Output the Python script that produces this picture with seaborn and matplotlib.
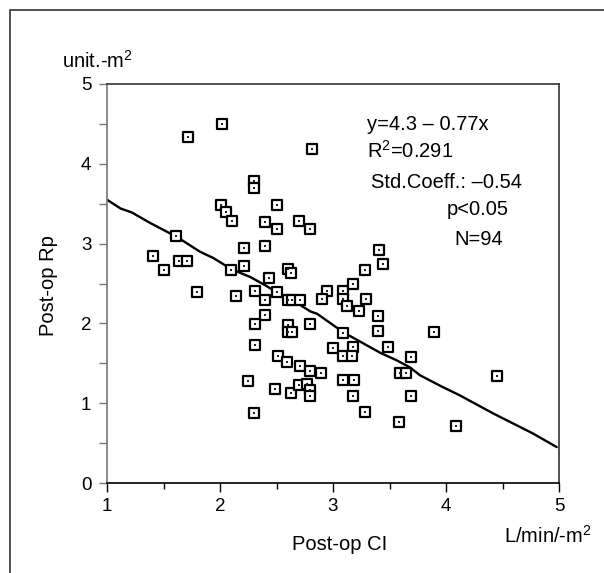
import numpy as np
import pandas as pd
import seaborn as sns
import matplotlib.pyplot as plt
from matplotlib.patches import Rectangle
from matplotlib.ticker import MultipleLocator

# post-op CI vs post-op Rp
ci = [2.02, 1.72, 2.81, 2.30, 2.30, 2.01, 2.05, 2.11, 2.50, 2.40,
      2.50, 2.70, 2.80, 1.61, 2.21, 2.40, 1.41, 1.50, 1.64, 1.71,
      2.10, 2.21, 2.60, 2.63, 2.43, 1.80, 2.14, 2.31, 2.50, 2.95,
      3.09, 3.41, 3.44, 3.28, 3.18, 2.90, 3.09, 3.29, 2.40, 2.60,
      2.64, 2.71, 3.12, 2.40, 2.31, 2.60, 2.60, 2.64, 2.80, 3.09,
      2.31, 3.00, 3.09, 2.51, 2.59, 2.71, 2.80, 2.89, 2.25, 2.49,
      2.63, 2.70, 2.77, 2.80, 2.80, 3.09, 2.30, 3.23, 3.40, 3.40,
      3.89, 3.18, 3.49, 3.17, 3.69, 3.59, 3.65, 4.45, 3.19, 3.18,
      3.69, 3.28, 3.58, 4.09]
rp = [4.50, 4.33, 4.18, 3.79, 3.70, 3.48, 3.39, 3.28, 3.48, 3.27,
      3.18, 3.28, 3.18, 3.09, 2.94, 2.97, 2.84, 2.67, 2.78, 2.78,
      2.67, 2.72, 2.68, 2.63, 2.57, 2.39, 2.34, 2.40, 2.39, 2.41,
      2.41, 2.92, 2.75, 2.67, 2.49, 2.31, 2.31, 2.30, 2.29, 2.29,
      2.29, 2.29, 2.22, 2.10, 1.99, 1.98, 1.89, 1.89, 1.99, 1.88,
      1.73, 1.69, 1.59, 1.59, 1.52, 1.47, 1.40, 1.38, 1.28, 1.18,
      1.13, 1.23, 1.24, 1.17, 1.09, 1.29, 0.88, 2.15, 2.09, 1.90,
      1.89, 1.70, 1.70, 1.59, 1.58, 1.38, 1.38, 1.34, 1.29, 1.09,
      1.09, 0.89, 0.77, 0.71]

# smoothed fit curve
fit_x = [1.00, 1.12, 1.22, 1.38, 1.61, 1.70, 1.82, 1.94, 2.10, 2.27,
         2.41, 2.50, 2.58, 2.71, 2.80, 2.86, 3.09, 3.42, 3.56, 3.68,
         3.77, 3.96, 4.12, 4.42, 4.77, 4.98]
fit_y = [3.55, 3.44, 3.39, 3.26, 3.09, 3.01, 2.90, 2.82, 2.68, 2.58,
         2.47, 2.39, 2.31, 2.23, 2.15, 2.12, 1.89, 1.63, 1.54, 1.45,
         1.35, 1.21, 1.10, 0.87, 0.62, 0.45]

stats = ['y=4.3 \u2013 0.77x', 'R$^2$=0.291', 'Std.Coeff.: \u20130.54', 'p<0.05', 'N=94']

sns.set_style('white')
plt.rcParams['font.family'] = ['Liberation Sans', 'DejaVu Sans']
plt.rcParams['mathtext.fontset'] = 'custom'
plt.rcParams['mathtext.rm'] = 'Liberation Sans'
plt.rcParams['mathtext.it'] = 'Liberation Sans:italic'
plt.rcParams['mathtext.default'] = 'regular'
plt.rcParams['text.color'] = 'black'
plt.rcParams['xtick.labelcolor'] = 'black'
plt.rcParams['ytick.labelcolor'] = 'black'

df = pd.DataFrame({'ci': ci, 'rp': rp})

fig = plt.figure(figsize=(6.04, 5.73), dpi=100)
ax = fig.add_axes([107/604, 90/573, 452/604, 399/573])

sns.lineplot(x=fit_x, y=fit_y, estimator=None, sort=False, color='black', linewidth=1.7, ax=ax, zorder=2)
sns.scatterplot(data=df, x='ci', y='rp', marker='s', s=44, facecolor='white',
                edgecolor='black', linewidth=1.6, ax=ax, zorder=3)
sns.scatterplot(data=df, x='ci', y='rp', marker='s', s=2.5, color='#222222',
                linewidth=0, ax=ax, zorder=4)

ax.set_xlim(1, 5)
ax.set_ylim(0, 5)
ax.xaxis.set_major_locator(MultipleLocator(1))
ax.xaxis.set_minor_locator(MultipleLocator(0.5))
ax.yaxis.set_major_locator(MultipleLocator(1))
ax.yaxis.set_minor_locator(MultipleLocator(0.5))
ax.tick_params(axis='x', which='major', bottom=True, length=6.5, width=1, color='black',
               labelsize=13.5, labelcolor='black', pad=4.5, direction='out')
ax.tick_params(axis='x', which='minor', bottom=True, length=4.3, width=1, color='black', direction='out')
ax.tick_params(axis='y', which='both', left=True, length=5.8, width=1, color='#777777',
               labelsize=13.5, labelcolor='black', pad=5.5, direction='out')
ax.set_xlabel('')
ax.set_ylabel('')

for side in ['top', 'right']:
    ax.spines[side].set_color('#333333')
    ax.spines[side].set_linewidth(1.2)
ax.spines['left'].set_color('#777777')
ax.spines['left'].set_linewidth(1.2)
ax.spines['bottom'].set_color('black')
ax.spines['bottom'].set_linewidth(1.2)

# annotation block (positions in data units)
tx = [3.30, 3.30, 3.34, 4.01, 4.07]
ty = [4.42, 4.07, 3.70, 3.36, 2.98]
for s, x, y in zip(stats, tx, ty):
    ax.text(x, y, s, fontsize=14.5, va='baseline', ha='left', color='black')

fig.text(62/604, 1 - 68/573, 'unit.-m$^2$', fontsize=14.5, va='baseline', ha='left', color='black')
fig.text(504/604, 1 - 543/573, 'L/min/-m$^2$', fontsize=14.5, va='baseline', ha='left', color='black')
fig.text(340/604, 1 - 550/573, 'Post-op CI', fontsize=14.5, va='baseline', ha='center', color='black')
fig.text(49/604, 1 - 286/573, 'Post-op Rp', fontsize=14.5, rotation=90, va='center', ha='center', color='black')

# outer frame
fig.add_artist(Rectangle((10/604, -0.1), 1.2, (573 - 10)/573 + 0.1, transform=fig.transFigure,
                         fill=False, edgecolor='#333333', linewidth=1.2))

fig.savefig('out.png', dpi=100)
